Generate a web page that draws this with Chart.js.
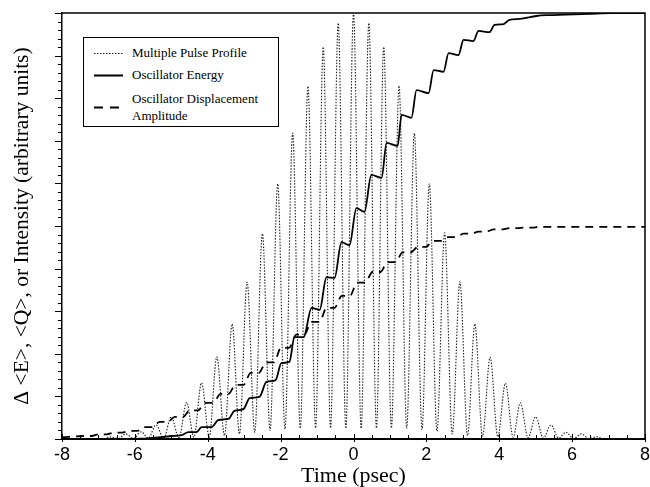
<!DOCTYPE html>
<html>
<head>
<meta charset="utf-8">
<script src="https://cdn.jsdelivr.net/npm/chart.js@4.4.0/dist/chart.umd.min.js"></script>
<style>
  html, body { margin: 0; padding: 0; background: #fff; }
  #wrap { position: relative; width: 650px; height: 487px; }
  #legend { position: absolute; left: 83px; top: 37px; width: 194px; height: 88px;
            border: 1px solid #000; background: #fff; color: #000;
            font-family: "Liberation Serif", "Times New Roman", serif; font-size: 13px; }
  #legend span { position: absolute; left: 48px; line-height: 14px; white-space: nowrap; }
  #legend svg { position: absolute; left: 0; top: 0; }
</style>
</head>
<body>
<div id="wrap">
  <canvas id="chart" width="650" height="487"></canvas>
  <div id="legend">
    <svg width="48" height="88">
      <line x1="10" y1="15.5" x2="39" y2="15.5" stroke="#222" stroke-width="1.1" stroke-dasharray="1.5,1.5"/>
      <line x1="10" y1="37.5" x2="39" y2="37.5" stroke="#000" stroke-width="2"/>
      <line x1="10" y1="69.5" x2="39" y2="69.5" stroke="#000" stroke-width="2" stroke-dasharray="9,7"/>
    </svg>
    <span style="top:8px">Multiple Pulse Profile</span>
    <span style="top:30px">Oscillator Energy</span>
    <span style="top:54px">Oscillator Displacement</span>
    <span style="top:71px">Amplitude</span>
  </div>
</div>
<script>
// pulse train: peak and trough values
const peakTimes = [-6.67, -6.25, -5.83, -5.42, -5.00, -4.58, -4.17, -3.75, -3.33, -2.92, -2.50, -2.08, -1.67, -1.25, -0.83, -0.42,
                   0, 0.42, 0.83, 1.25, 1.67, 2.08, 2.50, 2.92, 3.33, 3.75, 4.17, 4.58, 5.00, 5.42, 5.83, 6.25, 6.67];
const peakHeights = [0.05, 0.12, 0.17, 0.33, 0.52, 0.86, 1.32, 1.93, 2.70, 3.68, 4.82, 5.99, 7.18, 8.28, 9.20, 9.76,
                     10.0, 9.76, 9.20, 8.29, 7.18, 5.99, 4.84, 3.69, 2.70, 1.92, 1.31, 0.85, 0.52, 0.33, 0.16, 0.12, 0.05];
const troughTimes = [-8, -6.88, -6.46, -6.04, -5.63, -5.21, -4.79, -4.38, -3.96, -3.54, -3.13, -2.71, -2.29, -1.88, -1.46, -1.04, -0.63, -0.21,
                     0.21, 0.63, 1.04, 1.46, 1.88, 2.29, 2.71, 3.13, 3.54, 3.96, 4.38, 4.79, 5.21, 5.63, 6.04, 6.46, 6.88, 8];
const troughHeights = [0, 0, 0.01, 0.01, 0.02, 0.02, 0.03, 0.04, 0.05, 0.08, 0.12, 0.16, 0.20, 0.23, 0.25, 0.26, 0.26, 0.25,
                       0.25, 0.26, 0.26, 0.25, 0.22, 0.18, 0.12, 0.08, 0.06, 0.05, 0.04, 0.03, 0.02, 0.02, 0.01, 0.01, 0, 0];

// oscillator energy (solid)
const energyTimes = [-8, -5.82, -4.99, -4.72, -4.53, -4.31, -4.17, -3.90, -3.70, -3.43, -3.27, -3.02, -2.85, -2.58, -2.39, -2.14,
                     -1.98, -1.76, -1.62, -1.37, -1.15, -0.93, -0.74, -0.52, -0.33, -0.11, 0.08, 0.30, 0.49, 0.77, 0.91, 1.21,
                     1.32, 1.59, 1.73, 2.06, 2.20, 2.47, 2.61, 2.88, 3.02, 3.29, 3.43, 3.73, 3.87, 4.12, 4.28, 4.56, 5.02, 5.35, 6.45, 7.08, 8];
const energyValues = [0, 0.01, 0.07, 0.09, 0.16, 0.16, 0.28, 0.28, 0.45, 0.47, 0.66, 0.70, 0.96, 0.99, 1.34, 1.38,
                      1.78, 1.81, 2.39, 2.39, 3.08, 3.03, 3.80, 3.78, 4.62, 4.55, 5.42, 5.33, 6.20, 6.13, 6.95, 6.88,
                      7.61, 7.54, 8.19, 8.12, 8.66, 8.62, 9.06, 9.01, 9.37, 9.34, 9.58, 9.55, 9.72, 9.74, 9.84, 9.86, 9.93, 9.95, 9.98, 10.0, 10.0];

// oscillator displacement amplitude (dashed), start and end of each plateau
const ampTimes = [-8, -7.41, -7.19, -6.99, -6.77, -6.57, -6.35, -6.15, -5.93, -5.74, -5.52, -5.32, -5.10, -4.90, -4.68,
                  -4.49, -4.27, -4.07, -3.85, -3.65, -3.43, -3.24, -3.02, -2.82, -2.60, -2.40, -2.18, -1.99, -1.77,
                  -1.57, -1.35, -1.15, -0.93, -0.74, -0.52, -0.32, -0.10, 0.10, 0.32, 0.52, 0.74, 0.93, 1.15,
                  1.35, 1.57, 1.77, 1.99, 2.18, 2.40, 2.60, 2.82, 3.02, 3.24, 3.43, 3.65, 3.85, 4.07, 4.27, 4.49,
                  4.68, 4.90, 5.10, 5.32, 6.0, 8];
const ampValues = [0.04, 0.07, 0.07, 0.11, 0.11, 0.15, 0.15, 0.19, 0.19, 0.28, 0.28, 0.40, 0.40, 0.52, 0.52,
                   0.67, 0.67, 0.85, 0.85, 1.06, 1.06, 1.27, 1.27, 1.55, 1.55, 1.80, 1.80, 2.14, 2.14,
                   2.45, 2.45, 2.75, 2.75, 3.08, 3.08, 3.36, 3.36, 3.67, 3.67, 3.92, 3.92, 4.15, 4.15,
                   4.38, 4.38, 4.51, 4.51, 4.65, 4.65, 4.74, 4.74, 4.82, 4.82, 4.87, 4.87, 4.92, 4.92, 4.95, 4.95,
                   4.96, 4.96, 4.98, 4.98, 4.98, 4.98];

const xTicks = [-8, -6, -4, -2, 0, 2, 4, 6, 8];

function toPoints(xs, ys) {
    return xs.map((x, i) => ({x: x, y: ys[i]}));
}

let pulse = toPoints(peakTimes, peakHeights).concat(toPoints(troughTimes, troughHeights));
pulse.sort((a, b) => a.x - b.x);

// ticks on the axes + top/right frame
const frame = {
    id: 'frame',
    afterDraw(chart) {
        const {ctx, chartArea: a, scales: {x, y}} = chart;
        ctx.save();
        ctx.strokeStyle = '#000';
        ctx.lineWidth = 1.5;
        ctx.beginPath();
        ctx.moveTo(a.left, a.top);
        ctx.lineTo(a.right, a.top);
        ctx.lineTo(a.right, a.bottom);
        ctx.stroke();

        ctx.lineWidth = 1;
        ctx.beginPath();
        for (let v = -8; v <= 8; v += 0.5) {
            let px = Math.round(x.getPixelForValue(v)) + 0.5;
            let major = xTicks.includes(v);
            ctx.moveTo(px, a.bottom + (major ? 3 : 0));
            ctx.lineTo(px, a.bottom - (major ? 5 : 4));
        }
        for (let i = 0; i <= 50; i++) {
            let v = i / 5;
            let py = Math.round(y.getPixelForValue(v)) + 0.5;
            ctx.moveTo(a.left, py);
            ctx.lineTo(a.left - (i % 5 == 0 ? 7 : 4), py);
        }
        ctx.stroke();
        ctx.restore();
    }
};

let ctx = document.getElementById('chart').getContext('2d');
window.pulseChart = new Chart(ctx, {
    type: 'line',
    data: {
        datasets: [{
            label: 'Oscillator Energy',
            data: toPoints(energyTimes, energyValues),
            borderColor: '#000',
            borderWidth: 1.8,
            cubicInterpolationMode: 'monotone',
            order: 1
        }, {
            label: 'Oscillator Displacement Amplitude',
            data: toPoints(ampTimes, ampValues),
            borderColor: '#000',
            borderWidth: 1.8,
            borderDash: [8, 6],
            cubicInterpolationMode: 'monotone',
            order: 2
        }, {
            label: 'Multiple Pulse Profile',
            data: pulse,
            borderColor: '#222',
            borderWidth: 1.1,
            borderDash: [1.5, 1.5],
            cubicInterpolationMode: 'monotone',
            order: 3
        }]
    },
    options: {
        responsive: false,
        animation: false,
        events: [],
        elements: { point: { radius: 0 } },
        layout: { padding: { top: 13, right: 0, left: 0, bottom: 0 } },
        plugins: { legend: { display: false }, tooltip: { enabled: false } },
        scales: {
            x: {
                type: 'linear',
                min: -8, max: 8,
                afterFit: s => { s.height = 48; s.paddingLeft = 0; s.paddingRight = 5; },
                afterBuildTicks: s => { s.ticks = xTicks.map(v => ({value: v})); },
                grid: { drawOnChartArea: false, drawTicks: false },
                border: { color: '#000', width: 2 },
                ticks: {
                    padding: 5,
                    color: '#000',
                    maxRotation: 0,
                    font: { family: '"Liberation Sans", Arial, sans-serif', size: 18 }
                },
                title: {
                    display: true,
                    text: 'Time (psec)',
                    color: '#000',
                    padding: 0,
                    font: { family: '"Liberation Serif", "Times New Roman", serif', size: 22, lineHeight: 1 }
                }
            },
            y: {
                min: 0, max: 10,
                afterFit: s => { s.width = 62; },
                grid: { drawOnChartArea: false, drawTicks: false },
                border: { color: '#000', width: 1.5 },
                ticks: { display: false, stepSize: 1 },
                title: {
                    display: true,
                    text: 'Δ <E>, <Q>, or Intensity (arbitrary units)',
                    color: '#000',
                    padding: { top: 12, bottom: 0 },
                    font: { family: '"Liberation Serif", "Times New Roman", serif', size: 21.5, lineHeight: 1 }
                }
            }
        }
    },
    plugins: [frame]
});
</script>
</body>
</html>
